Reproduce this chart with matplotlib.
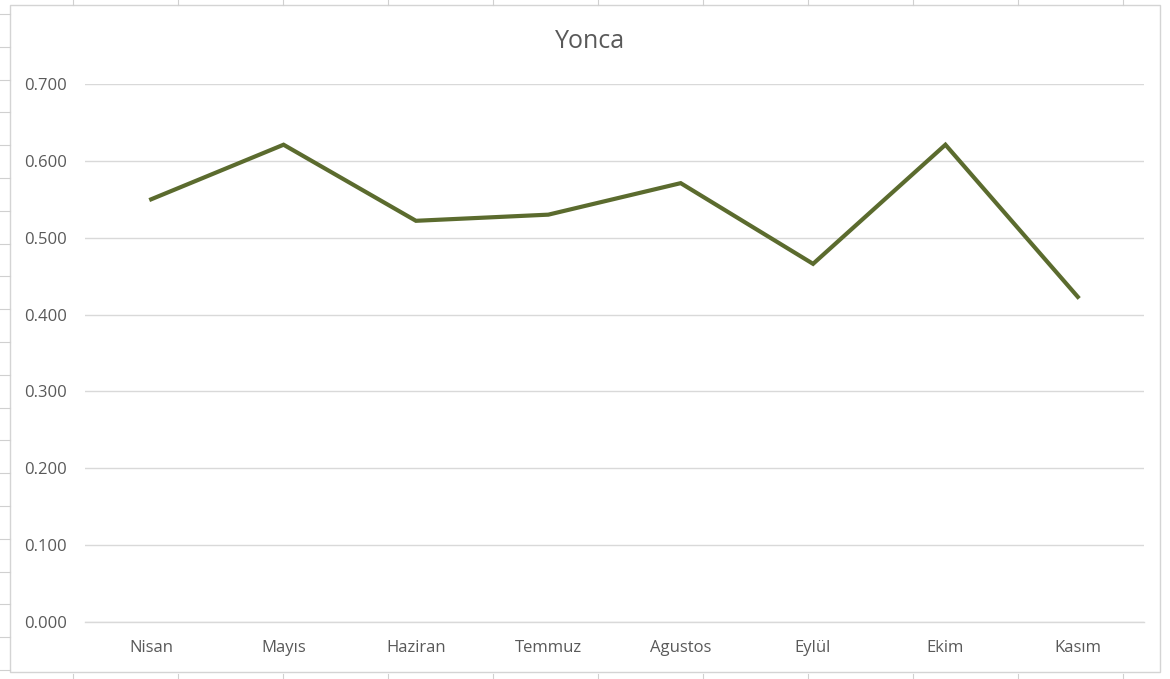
import matplotlib
matplotlib.use("Agg")
import matplotlib.pyplot as plt
from matplotlib.lines import Line2D
from matplotlib.patches import Rectangle

# Monthly values for "Yonca"
months = ["Nisan", "Mayıs", "Haziran", "Temmuz", "Agustos", "Eylül", "Ekim", "Kasım"]
values = [0.550, 0.621, 0.522, 0.530, 0.571, 0.466, 0.621, 0.423]
y_ticks = [0.0, 0.1, 0.2, 0.3, 0.4, 0.5, 0.6, 0.7]
title = "Yonca"

W, H, DPI = 1170, 679, 100
plt.rcParams["font.family"] = ["Open Sans", "DejaVu Sans"]
text_color = "#595959"
grid_color = "#d9d9d9"
line_color = "#5b6b2e"

fig = plt.figure(figsize=(W / DPI, H / DPI), dpi=DPI)
fig.patch.set_facecolor("white")

def px(x, y):
    return x / W, 1 - y / H

# spreadsheet cell lines around the chart object
for i in range(11):
    cx = 73 + 105 * i
    fig.add_artist(Line2D([cx / W, cx / W], [1, 1 - 5 / H], color="#d0d0d0", lw=0.8))
    fig.add_artist(Line2D([cx / W, cx / W], [1 - 674 / H, 0], color="#d0d0d0", lw=0.8))
for j in range(21):
    cy = 14 + 32.8 * j
    if cy > 672:
        break
    fig.add_artist(Line2D([0, 10 / W], [1 - cy / H, 1 - cy / H], color="#d0d0d0", lw=0.8))

# chart object border
x0, y0 = px(10, 672)
x1, y1 = px(1160, 5)
fig.add_artist(Rectangle((x0, y0), x1 - x0, y1 - y0, transform=fig.transFigure,
                         facecolor="white", edgecolor="#d4d4d4", lw=1.0, zorder=0))

left, top = px(85, 84)
right, bottom = px(1144, 622)
ax = fig.add_axes([left, bottom, right - left, top - bottom])
ax.set_facecolor("none")

x = list(range(len(months)))
ax.plot(x, values, color=line_color, lw=3.0, solid_joinstyle="miter", zorder=3)

ax.set_xlim(-0.5, len(months) - 0.5)
ax.set_ylim(0, 0.7)
ax.set_yticks(y_ticks)
ax.set_yticklabels([f"{v:.3f}" for v in y_ticks])
ax.set_xticks(x)
ax.set_xticklabels(months)
ax.tick_params(axis="y", length=0, pad=13, labelsize=12, labelcolor=text_color)
ax.tick_params(axis="x", length=0, pad=13, labelsize=12, labelcolor=text_color)
ax.yaxis.grid(True, color=grid_color, lw=1.0)
ax.set_axisbelow(True)
for s in ax.spines.values():
    s.set_visible(False)
# bottom axis line drawn as the 0 gridline
ax.axhline(0, color=grid_color, lw=1.0, zorder=1, clip_on=False)

tx, ty = px(590, 42)
fig.text(tx, ty, title, ha="center", va="center", fontsize=18, color=text_color)

fig.savefig("out.png", dpi=DPI)
